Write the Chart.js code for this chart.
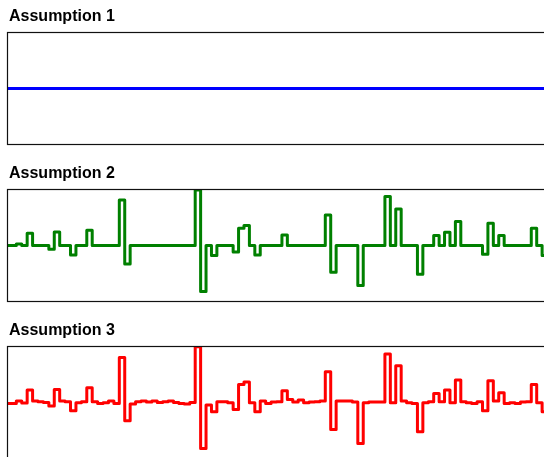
<!DOCTYPE html>
<html>
<head>
<meta charset="UTF-8">
<title>Assumptions</title>
<script src="https://cdnjs.cloudflare.com/ajax/libs/Chart.js/4.4.1/chart.umd.min.js"></script>
<style>
  body { margin: 0; width: 544px; height: 457px; overflow: hidden; background: #fff; position: relative; }
  .panel { position: absolute; left: 0; width: 560px; height: 150px; }
  .panel h4 { position: absolute; left: 9px; top: 8px; margin: 0; z-index: 1;
              font: bold 16px/16px "Liberation Sans", Arial, sans-serif; color: #000; }
  .panel canvas { position: absolute; left: 0; top: 0; }
</style>
</head>
<body>

<div class="panel" style="top:0px"><h4>Assumption 1</h4><canvas id="chart1" width="560" height="150"></canvas></div>
<div class="panel" style="top:157px"><h4>Assumption 2</h4><canvas id="chart2" width="560" height="150"></canvas></div>
<div class="panel" style="top:314px"><h4>Assumption 3</h4><canvas id="chart3" width="560" height="150"></canvas></div>

<script>
// one value per time step (step n holds from n to n+1)
var assumption1 = [0,0,0,0,0,0,0,0,0,0, 0,0,0,0,0,0,0,0,0,0, 0,0,0,0,0,0,0,0,0,0,
  0,0,0,0,0,0,0,0,0,0, 0,0,0,0,0,0,0,0,0,0, 0,0,0,0,0,0,0,0,0,0,
  0,0,0,0,0,0,0,0,0,0, 0,0,0,0,0,0,0,0,0,0, 0,0,0,0,0,0,0,0,0,0,
  0,0,0,0,0,0,0,0,0,0, 0];

var assumption2 = [0, 0, 1.7, 0, 12.4, 0, 0, 0, -3.6, 13.7,
  0, 0, -9.3, 0, 0, 15.4, 0, 0, 0, 0,
  0, 45.7, -18.3, 0, 0, 0, 0, 0, 0, 0,
  0, 0, 0, 0, 0, 55.7, -46, 0, -10, 0,
  0, 0, -6.3, 17.4, 20, 0, -9.3, 0, 0, 0,
  0, 10.7, 0, 0, 0, 0, 0, 0, 0, 30.7,
  -26.6, 0, 0, 0, 0, -40, 0, 0, 0, 0,
  49, 0, 36.7, 0, 0, 0, -28.6, 0, 0, 10,
  0, 13.4, 0, 24, 0, 0, 0, 0, -8.6, 22.4,
  0, 10, 0, 0, 0, 0, 0, 17.4, 0, -10,
  -10];

var assumption3 = [-0.8, -0.8, 1.5, -0.5, 12.5, 1.5, 0.8, 0.2, -3.5, 13.2,
  1.5, 0.8, -8.2, -0.2, 0.8, 14.8, 0.8, -0.8, -0.2, 1.5,
  -0.8, 45.2, -18.2, -1.5, 0.8, 1.5, 0.5, 1.5, 0.2, 0.8,
  1.5, 0.2, -0.8, -1.5, 0.2, 55.8, -45.8, -2.5, -9.2, 0.8,
  0.8, -0.2, -6.8, 18.2, 20.5, -0.2, -9.2, 1.5, -0.8, 0.5,
  0.8, 11.8, 3.2, 0.5, 2.5, -0.2, 0.5, 0.8, 1.5, 30.8,
  -26.8, 1.5, 1.5, 1.5, 0.5, -40.8, -0.2, 0.5, 0.5, 0.5,
  48.5, -0.2, 36.8, 1.5, -0.2, -0.8, -29.2, -0.2, 0.8, 9.2,
  0.8, 12.5, -0.2, 22.5, 0.8, -0.2, -0.8, 0.8, -8.2, 21.8,
  1.5, 9.8, -0.8, -0.2, -0.8, 0.5, 0.8, 18.2, -0.2, -9.2,
  -9.2];

// visible window of time steps (the right side runs past the picture)
var xMin = 0.28;
var xMax = 102.3;

// black box round each plot area
var framePlugin = {
  id: 'frame',
  afterDraw: function(chart) {
    var a = chart.chartArea;
    var ctx = chart.ctx;
    ctx.save();
    ctx.strokeStyle = '#111';
    ctx.lineWidth = 1.2;
    ctx.strokeRect(a.left + 0.5, a.top + 0.5, a.right - a.left, a.bottom - a.top - 1);
    ctx.restore();
  }
};

function stepChart(id, values, color, yMin, yMax) {
  var ctx = document.getElementById(id).getContext('2d');
  return new Chart(ctx, {
    type: 'line',
    data: {
      datasets: [{
        data: values.map(function(v, i) { return { x: i, y: v }; }),
        borderColor: color,
        borderWidth: 3,
        borderJoinStyle: 'round',
        stepped: true,
        pointRadius: 0,
        fill: false
      }]
    },
    options: {
      responsive: false,
      animation: false,
      events: [],
      layout: { padding: { left: 7, right: 0, top: 32, bottom: 5 } },
      plugins: {
        legend: { display: false },
        tooltip: { enabled: false },
        title: { display: false }
      },
      scales: {
        x: { type: 'linear', display: false, min: xMin, max: xMax },
        y: { display: false, min: yMin, max: yMax }
      }
    },
    plugins: [framePlugin]
  });
}

stepChart('chart1', assumption1, '#0000ff', -1, 1);
stepChart('chart2', assumption2, '#008000', -56.4, 56.6);
stepChart('chart3', assumption3, '#ff0000', -56.4, 56.6);
</script>
</body>
</html>
